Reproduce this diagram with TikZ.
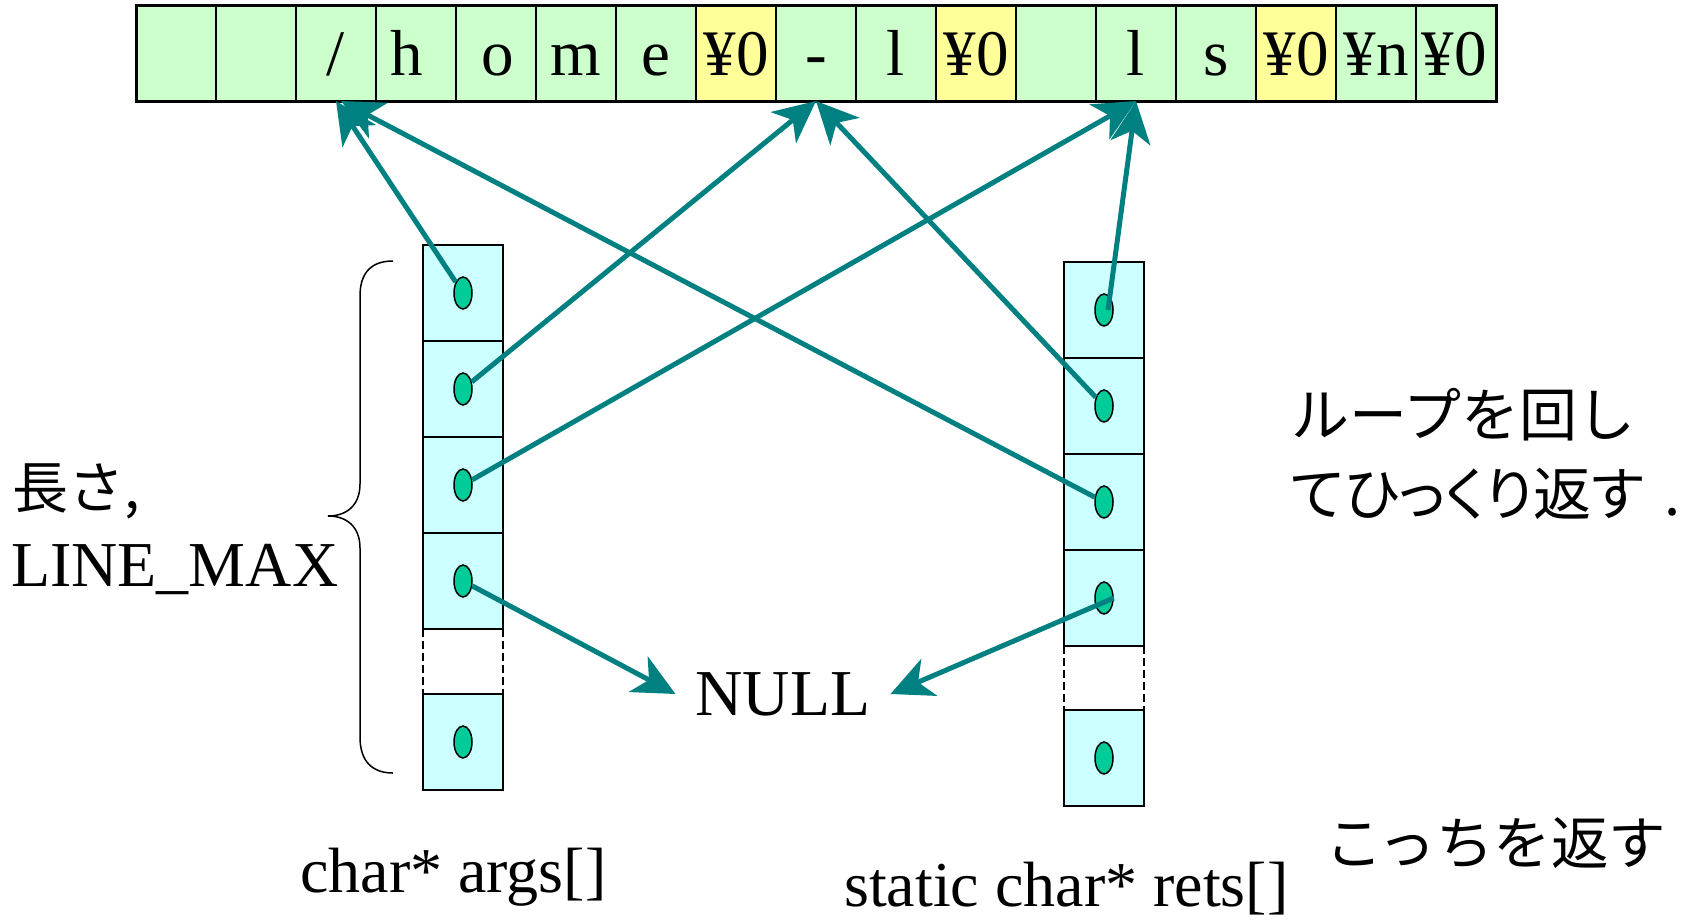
\documentclass[tikz,border=0pt]{standalone}
\usepackage{fontspec}
\setmainfont{Liberation Serif}
\newfontfamily\cjk{Noto Sans CJK JP}
\newfontfamily\cjkp[RawFeature=+palt]{Noto Sans CJK JP}
\usetikzlibrary{arrows.meta,shapes.geometric}
\definecolor{cellgreen}{HTML}{CCFFCC}
\definecolor{cellyellow}{HTML}{FFFF99}
\definecolor{cellcyan}{HTML}{CCFFFF}
\definecolor{ptrgreen}{HTML}{00CC99}
\definecolor{arrowteal}{HTML}{008080}
\begin{document}
\begin{tikzpicture}[x=1bp,y=-1bp,
  strcell/.style={draw=black, line width=1.5bp, fill=cellgreen, minimum width=80bp, minimum height=96bp, inner sep=0pt, outer sep=0pt, anchor=north west},
  nulcell/.style={strcell, fill=cellyellow},
  arrcell/.style={strcell, fill=cellcyan},
  chartext/.style={inner sep=0pt, text height=45bp, text depth=0bp, font=\fontsize{65bp}{70bp}\selectfont},
  ptrdot/.style={ellipse, draw=black, line width=1.5bp, fill=ptrgreen, minimum width=18bp, minimum height=32bp, inner sep=0pt},
  ptr/.style={draw=arrowteal, line width=5bp, -{Stealth[length=42bp,width=40bp,inset=12bp]}},
  gapline/.style={draw=black, line width=1.5bp, dash pattern=on 8bp off 4bp},
  serif/.style={inner sep=0pt, font=\fontsize{64bp}{70bp}\selectfont},
  jtext/.style={inner sep=0pt, anchor=west, font=\cjk\fontsize{58bp}{64bp}\selectfont}
]
\useasboundingbox (0,0) rectangle (1702,919);
% top string row
\foreach \i in {1,...,17} {
  \node[strcell] (s\i) at ({136+80*(\i-1)},5) {};
}
\foreach \i in {8,11,15} {
  \node[nulcell] at ({136+80*(\i-1)},5) {};
}
\draw[line width=3bp] (s1.north west) rectangle (s17.south east);
\node[chartext] (t3) at (s3.center) {/};
\node[chartext, xshift=-9bp] (t4) at (s4.center) {h};
\node[chartext, xshift=2bp] (t5) at (s5.center) {o};
\node[chartext] (t6) at (s6.center) {m};
\node[chartext] (t7) at (s7.center) {e};
\node[chartext] (t8) at (s8.center) {¥0};
\node[chartext] (t9) at (s9.center) {-};
\node[chartext] (t10) at (s10.center) {l};
\node[chartext] (t11) at (s11.center) {¥0};
\node[chartext] (t13) at (s13.center) {l};
\node[chartext] (t14) at (s14.center) {s};
\node[chartext] (t15) at (s15.center) {¥0};
\node[chartext] (t16) at (s16.center) {¥n};
\node[chartext, xshift=-2bp] (t17) at (s17.center) {¥0};
% args column
\node[arrcell] (a1) at (423,245) {};
\node[arrcell] (a2) at (423,341) {};
\node[arrcell] (a3) at (423,437) {};
\node[arrcell] (a4) at (423,533) {};
\node[arrcell] (a5) at (423,694) {};
\draw[gapline] (a4.south west) -- (a5.north west);
\draw[gapline] (a4.south east) -- (a5.north east);
\foreach \i in {1,...,5} { \node[ptrdot] (pa\i) at (a\i.center) {}; }
% rets column
\node[arrcell] (r1) at (1064,262) {};
\node[arrcell] (r2) at (1064,358) {};
\node[arrcell] (r3) at (1064,454) {};
\node[arrcell] (r4) at (1064,550) {};
\node[arrcell] (r5) at (1064,710) {};
\draw[gapline] (r4.south west) -- (r5.north west);
\draw[gapline] (r4.south east) -- (r5.north east);
\foreach \i in {1,...,5} { \node[ptrdot] (pr\i) at (r\i.center) {}; }
% NULL
\node[serif, inner xsep=20bp, font=\fontsize{65.5bp}{70bp}\selectfont] (null) at (783,694) {NULL};
% arrows
\draw[ptr] (pa1) -- (s3.south);
\draw[ptr] (pa2) -- (s9.south);
\draw[ptr] (pa3) -- (s13.south);
\draw[ptr] (pa4) -- (null.west);
\draw[ptr] ([xshift=4bp]pr1.center) -- (s13.south);
\draw[ptr] (pr2) -- (s9.south);
\draw[ptr] (pr3) -- ([xshift=5bp]s3.south);
\draw[ptr] (pr4.east) -- (null.east);
% brace
\draw[line width=1.5bp] (393,261) .. controls (372,261) and (360,272) .. (360,296) -- (360,484) .. controls (360,505) and (347,516) .. (328,516) .. controls (347,516) and (360,527) .. (360,548) -- (360,737) .. controls (360,761) and (372,773) .. (393,773);
% labels
\node[jtext, font=\cjk\fontsize{56bp}{64bp}\selectfont] (len) at (12,491) {長さ,};
\node[serif, anchor=base west] (lmax) at (11,586) {LINE\_MAX};
\node[jtext] (loop1) at (1291,415) {ループを回し};
\node[jtext, font=\cjkp\fontsize{58bp}{64bp}\selectfont] (loop2) at (1291,494) {てひっくり返す\kern20bp.};
\node[jtext, font=\cjk\fontsize{57.5bp}{64bp}\selectfont] (ret) at (1325,843) {こっちを返す};
\node[serif, anchor=base west] (argsl) at (300,892) {char* args[]};
\node[serif, anchor=base west] (retsl) at (844,906) {static char* rets[]};
\end{tikzpicture}
\end{document}
